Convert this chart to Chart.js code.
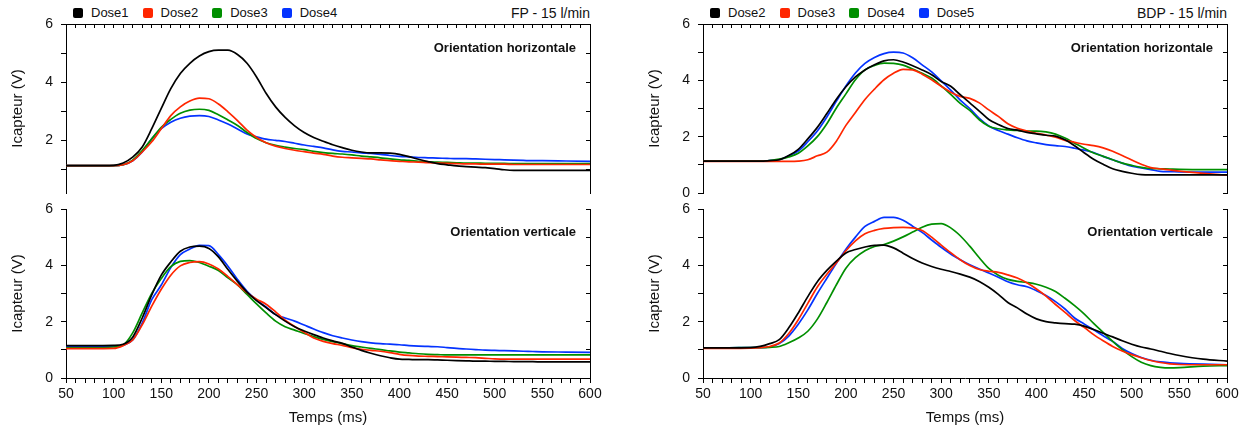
<!DOCTYPE html>
<html lang="fr">
<head>
<meta charset="utf-8">
<title>Icapteur - FP / BDP 15 l/min</title>
<script src="https://cdn.jsdelivr.net/npm/chart.js@4.4.1/dist/chart.umd.min.js"></script>
<style>
  html, body { margin: 0; padding: 0; background: #fff; }
  #page { position: relative; width: 1247px; height: 430px; overflow: hidden;
          font-family: "Liberation Sans", Arial, Helvetica, sans-serif; color: #111; }
  canvas { position: absolute; }
  .entete { position: absolute; top: 4px; width: 517px; height: 18px; line-height: 18px; font-size: 13px; }
  .legende { position: absolute; left: 0; top: 0; display: flex; white-space: nowrap; }
  .item { display: flex; align-items: center; margin-right: 14px; }
  .carre { width: 10px; height: 10px; border-radius: 2px; margin-right: 8px; }
  .titre { position: absolute; right: 0; top: 0; font-size: 14px; }
</style>
</head>
<body>
<div id="page">
  <div class="entete" style="left:73px"><div class="legende" id="legFP"></div><div class="titre">FP - 15 l/min</div></div>
  <div class="entete" style="left:710px"><div class="legende" id="legBDP"></div><div class="titre">BDP - 15 l/min</div></div>
  <canvas id="fpHoriz" width="610" height="200" style="left:0;top:0"></canvas>
  <canvas id="fpVert" width="610" height="230" style="left:0;top:200px"></canvas>
  <canvas id="bdpHoriz" width="610" height="200" style="left:637px;top:0"></canvas>
  <canvas id="bdpVert" width="610" height="230" style="left:637px;top:200px"></canvas>
</div>
<script>
// temps (ms), commun a toutes les courbes
const temps = [50, 75, 100, 110, 120, 130, 140, 150, 160, 170,
  180, 190, 200, 210, 220, 230, 240, 250, 260, 270,
  280, 290, 300, 310, 320, 330, 340, 350, 360, 370,
  380, 390, 400, 410, 420, 430, 440, 450, 460, 470,
  480, 490, 500, 510, 520, 530, 540, 550, 575, 600];

const dosesFP = ["Dose1", "Dose2", "Dose3", "Dose4"];
const dosesBDP = ["Dose2", "Dose3", "Dose4", "Dose5"];
const couleurs = ["#000000", "#ff2600", "#008f00", "#0433ff"];
const ticksY = [0, 1, 2, 3, 4, 5, 6];
const ticksX = [50, 60, 70, 80, 90, 100, 110, 120, 130, 140, 150, 160, 170, 180, 190, 200,
  210, 220, 230, 240, 250, 260, 270, 280, 290, 300, 310, 320, 330, 340, 350, 360, 370, 380,
  390, 400, 410, 420, 430, 440, 450, 460, 470, 480, 490, 500, 510, 520, 530, 540, 550, 560,
  570, 580, 590, 600];

// FP - orientation horizontale
const fpHorizDose1 = [1.13, 1.13, 1.14, 1.22, 1.42, 1.77, 2.40, 3.10, 3.78, 4.30,
  4.65, 4.90, 5.05, 5.10, 5.10, 4.95, 4.65, 4.18, 3.62, 3.15,
  2.79, 2.50, 2.27, 2.10, 1.97, 1.85, 1.75, 1.66, 1.60, 1.57,
  1.57, 1.56, 1.52, 1.44, 1.35, 1.27, 1.20, 1.16, 1.12, 1.10,
  1.08, 1.06, 1.03, 0.99, 0.97, 0.97, 0.97, 0.97, 0.97, 0.97];
const fpHorizDose2 = [1.13, 1.13, 1.13, 1.16, 1.30, 1.60, 1.95, 2.40, 2.85, 3.15,
  3.35, 3.45, 3.43, 3.25, 2.98, 2.68, 2.35, 2.10, 1.92, 1.80,
  1.72, 1.66, 1.61, 1.56, 1.52, 1.46, 1.42, 1.40, 1.38, 1.36,
  1.33, 1.30, 1.28, 1.26, 1.25, 1.23, 1.22, 1.21, 1.20, 1.19,
  1.19, 1.18, 1.18, 1.18, 1.17, 1.17, 1.17, 1.17, 1.17, 1.17];
const fpHorizDose3 = [1.13, 1.13, 1.13, 1.16, 1.32, 1.65, 2.05, 2.45, 2.72, 2.93,
  3.04, 3.07, 3.03, 2.88, 2.70, 2.51, 2.27, 2.06, 1.92, 1.83,
  1.77, 1.72, 1.68, 1.62, 1.58, 1.55, 1.53, 1.50, 1.46, 1.43,
  1.40, 1.36, 1.33, 1.31, 1.28, 1.26, 1.25, 1.24, 1.23, 1.22,
  1.22, 1.21, 1.21, 1.21, 1.20, 1.20, 1.20, 1.20, 1.20, 1.20];
const fpHorizDose4 = [1.13, 1.13, 1.13, 1.16, 1.30, 1.60, 2.05, 2.40, 2.62, 2.76,
  2.83, 2.85, 2.82, 2.70, 2.56, 2.39, 2.22, 2.12, 2.04, 2.00,
  1.96, 1.90, 1.84, 1.79, 1.74, 1.67, 1.62, 1.60, 1.57, 1.55,
  1.52, 1.48, 1.45, 1.43, 1.41, 1.40, 1.39, 1.38, 1.37, 1.37,
  1.36, 1.35, 1.34, 1.33, 1.32, 1.31, 1.30, 1.30, 1.29, 1.28];

// FP - orientation verticale
const fpVertDose1 = [1.15, 1.15, 1.16, 1.20, 1.45, 2.13, 2.95, 3.65, 4.12, 4.50,
  4.65, 4.68, 4.60, 4.30, 3.85, 3.43, 3.05, 2.75, 2.50, 2.25,
  2.02, 1.82, 1.67, 1.54, 1.42, 1.32, 1.23, 1.10, 0.98, 0.88,
  0.79, 0.72, 0.67, 0.66, 0.65, 0.65, 0.64, 0.63, 0.62, 0.61,
  0.60, 0.60, 0.59, 0.59, 0.58, 0.58, 0.58, 0.57, 0.57, 0.57];
const fpVertDose2 = [1.04, 1.04, 1.05, 1.15, 1.35, 1.89, 2.55, 3.15, 3.65, 3.98,
  4.10, 4.13, 4.05, 3.87, 3.60, 3.31, 3.03, 2.80, 2.62, 2.35,
  2.05, 1.83, 1.62, 1.42, 1.30, 1.22, 1.16, 1.08, 1.02, 0.98,
  0.95, 0.90, 0.84, 0.80, 0.78, 0.77, 0.76, 0.75, 0.74, 0.73,
  0.72, 0.70, 0.68, 0.67, 0.67, 0.67, 0.67, 0.67, 0.67, 0.67];
const fpVertDose3 = [1.07, 1.07, 1.10, 1.17, 1.60, 2.31, 3.00, 3.53, 3.95, 4.14,
  4.17, 4.10, 3.97, 3.82, 3.56, 3.31, 2.97, 2.63, 2.31, 2.02,
  1.82, 1.70, 1.58, 1.47, 1.37, 1.29, 1.22, 1.15, 1.10, 1.05,
  1.01, 0.96, 0.92, 0.89, 0.86, 0.84, 0.83, 0.82, 0.82, 0.82,
  0.82, 0.82, 0.82, 0.82, 0.82, 0.82, 0.82, 0.82, 0.82, 0.82];
const fpVertDose4 = [1.12, 1.12, 1.13, 1.17, 1.35, 1.95, 2.78, 3.30, 3.92, 4.38,
  4.58, 4.71, 4.70, 4.38, 3.97, 3.50, 3.08, 2.77, 2.52, 2.25,
  2.13, 2.02, 1.88, 1.74, 1.61, 1.50, 1.42, 1.35, 1.29, 1.25,
  1.22, 1.20, 1.18, 1.15, 1.13, 1.12, 1.11, 1.08, 1.05, 1.03,
  1.01, 0.99, 0.98, 0.97, 0.96, 0.95, 0.94, 0.93, 0.92, 0.91];

// BDP - orientation horizontale
const bdpHorizDose2 = [1.13, 1.13, 1.13, 1.13, 1.15, 1.18, 1.33, 1.55, 1.92, 2.33,
  2.82, 3.33, 3.77, 4.12, 4.37, 4.55, 4.69, 4.73, 4.65, 4.52,
  4.37, 4.20, 3.96, 3.79, 3.49, 3.20, 2.91, 2.61, 2.43, 2.29,
  2.23, 2.15, 2.10, 2.05, 2.02, 1.89, 1.68, 1.43, 1.20, 1.02,
  0.86, 0.77, 0.70, 0.65, 0.64, 0.64, 0.64, 0.64, 0.64, 0.64];
const bdpHorizDose3 = [1.12, 1.12, 1.12, 1.12, 1.12, 1.12, 1.12, 1.13, 1.18, 1.32,
  1.45, 1.84, 2.40, 2.86, 3.32, 3.69, 4.02, 4.25, 4.39, 4.37,
  4.22, 4.02, 3.79, 3.58, 3.43, 3.36, 3.20, 2.95, 2.72, 2.46,
  2.30, 2.20, 2.12, 2.06, 1.98, 1.87, 1.80, 1.73, 1.68, 1.60,
  1.48, 1.33, 1.17, 1.02, 0.90, 0.86, 0.82, 0.78, 0.70, 0.63];
const bdpHorizDose4 = [1.13, 1.13, 1.13, 1.13, 1.15, 1.20, 1.28, 1.41, 1.67, 2.00,
  2.46, 3.02, 3.52, 4.02, 4.37, 4.53, 4.61, 4.60, 4.54, 4.40,
  4.25, 4.08, 3.80, 3.50, 3.18, 2.93, 2.60, 2.37, 2.28, 2.24,
  2.22, 2.20, 2.20, 2.17, 2.09, 1.95, 1.77, 1.59, 1.42, 1.30,
  1.18, 1.06, 0.98, 0.91, 0.87, 0.86, 0.85, 0.84, 0.83, 0.83];
const bdpHorizDose5 = [1.13, 1.13, 1.13, 1.13, 1.15, 1.18, 1.32, 1.49, 1.82, 2.20,
  2.70, 3.26, 3.80, 4.26, 4.60, 4.81, 4.95, 5.00, 4.97, 4.80,
  4.55, 4.30, 3.98, 3.65, 3.30, 3.00, 2.65, 2.38, 2.22, 2.09,
  1.96, 1.85, 1.78, 1.72, 1.68, 1.65, 1.59, 1.52, 1.44, 1.30,
  1.18, 1.06, 0.95, 0.89, 0.83, 0.77, 0.76, 0.75, 0.74, 0.74];

// BDP - orientation verticale
const bdpVertDose2 = [1.07, 1.07, 1.08, 1.12, 1.22, 1.36, 1.78, 2.31, 2.89, 3.42,
  3.82, 4.15, 4.44, 4.56, 4.65, 4.71, 4.72, 4.62, 4.43, 4.24,
  4.08, 3.96, 3.86, 3.78, 3.69, 3.58, 3.43, 3.22, 2.97, 2.68,
  2.49, 2.27, 2.10, 2.00, 1.96, 1.93, 1.91, 1.84, 1.72, 1.59,
  1.46, 1.32, 1.20, 1.10, 1.03, 0.95, 0.87, 0.80, 0.67, 0.60];
const bdpVertDose3 = [1.05, 1.05, 1.06, 1.08, 1.12, 1.24, 1.58, 2.07, 2.65, 3.23,
  3.68, 4.09, 4.52, 4.87, 5.12, 5.24, 5.31, 5.34, 5.35, 5.33,
  5.24, 5.00, 4.72, 4.45, 4.20, 3.99, 3.85, 3.79, 3.75, 3.66,
  3.55, 3.38, 3.16, 2.91, 2.61, 2.33, 2.04, 1.80, 1.54, 1.32,
  1.12, 0.96, 0.83, 0.72, 0.62, 0.55, 0.50, 0.48, 0.47, 0.47];
const bdpVertDose4 = [1.07, 1.07, 1.08, 1.08, 1.09, 1.12, 1.25, 1.42, 1.66, 2.09,
  2.68, 3.31, 3.90, 4.27, 4.52, 4.67, 4.74, 4.86, 5.01, 5.18,
  5.35, 5.46, 5.48, 5.33, 5.05, 4.68, 4.27, 3.89, 3.65, 3.50,
  3.43, 3.39, 3.33, 3.22, 3.07, 2.83, 2.57, 2.28, 1.94, 1.62,
  1.30, 1.01, 0.76, 0.56, 0.44, 0.38, 0.36, 0.37, 0.42, 0.44];
const bdpVertDose5 = [1.07, 1.07, 1.08, 1.08, 1.10, 1.22, 1.49, 1.91, 2.42, 3.00,
  3.54, 4.07, 4.57, 5.00, 5.38, 5.56, 5.70, 5.70, 5.60, 5.39,
  5.17, 4.90, 4.64, 4.40, 4.20, 4.02, 3.87, 3.73, 3.58, 3.42,
  3.31, 3.24, 3.10, 2.93, 2.71, 2.45, 2.13, 1.92, 1.71, 1.50,
  1.30, 1.05, 0.87, 0.73, 0.63, 0.57, 0.54, 0.52, 0.49, 0.47];

const police = '"Liberation Sans", Arial, Helvetica, sans-serif';

// texte du panneau, en haut a droite de la zone de trace
const etiquette = {
  id: "etiquette",
  afterDraw(chart, args, o) {
    const ctx = chart.ctx, a = chart.chartArea;
    ctx.save();
    ctx.fillStyle = "#111";
    ctx.font = "bold 13px " + police;
    ctx.textAlign = "right";
    ctx.textBaseline = "middle";
    ctx.fillText(o.texte, a.right - 14, a.top + o.dy);
    ctx.restore();
  }
};

function faireLegende(id, doses) {
  const div = document.getElementById(id);
  doses.forEach((nom, i) => {
    const item = document.createElement("div");
    item.className = "item";
    item.innerHTML = '<span class="carre" style="background:' + couleurs[i] + '"></span>' + nom;
    div.appendChild(item);
  });
}

const grille = len => ({ display: true, drawOnChartArea: false, drawTicks: true, tickLength: len,
                         color: "#000", lineWidth: 1 });

function faireGraphique(id, doses, series, haut, ymin, texte) {
  const datasets = doses.map((nom, i) => ({
    label: nom,
    xAxisID: "x",
    yAxisID: "y",
    data: temps.map((t, k) => ({ x: t, y: series[i][k] })),
    borderColor: couleurs[i],
    backgroundColor: couleurs[i],
    borderWidth: 1.7,
    pointRadius: 0,
    cubicInterpolationMode: "monotone",
    fill: false
  }));
  const ticksYpanneau = s => { s.ticks = ticksY.filter(v => v >= s.min).map(v => ({ value: v })); };
  const ticksXpanneau = s => { s.ticks = ticksX.map(v => ({ value: v })); };
  const scales = {
    x: {
      type: "linear", min: 50, max: 600, display: !haut,
      grid: grille(5),
      border: { display: true, color: "#000", width: 1 },
      afterBuildTicks: ticksXpanneau,
      ticks: { padding: 3, color: "#111", maxRotation: 0, autoSkip: false,
               callback: v => (v % 50 === 0 ? v : ""),
               font: { family: police, size: 14 } },
      title: { display: true, text: "Temps (ms)", color: "#111",
               font: { family: police, size: 15 }, padding: { top: 0, bottom: 3 } },
      afterFit: s => { if (!haut) s.height = 52; }
    },
    y: {
      min: ymin, max: 6,
      grid: grille(5),
      border: { display: true, color: "#000", width: 1 },
      afterBuildTicks: ticksYpanneau,
      ticks: { padding: 8, color: "#111", autoSkip: false,
               callback: v => (v % 2 === 0 ? v : ""),
               font: { family: police, size: 14 } },
      title: { display: true, text: "Icapteur (V)", color: "#111",
               font: { family: police, size: 15 }, padding: { top: 9, bottom: 0 } },
      afterFit: s => { s.width = 66; s.paddingTop = 0; s.paddingBottom = 0; }
    },
    y2: {
      axis: "y", position: "right", min: ymin, max: 6,
      grid: grille(-4),
      border: { display: true, color: "#000", width: 1 },
      afterBuildTicks: ticksYpanneau,
      ticks: { display: false },
      afterFit: s => { s.width = 0; s.paddingTop = 0; s.paddingBottom = 0; }
    }
  };
  if (haut) {
    scales.x2 = {
      axis: "x", type: "linear", position: "top", min: 50, max: 600,
      grid: grille(-4),
      border: { display: true, color: "#000", width: 1 },
      afterBuildTicks: ticksXpanneau,
      ticks: { display: false },
      afterFit: s => { s.height = 0; s.paddingLeft = 0; s.paddingRight = 0; }
    };
  }
  return new Chart(document.getElementById(id), {
    type: "line",
    data: { datasets: datasets },
    plugins: [etiquette],
    options: {
      responsive: false,
      animation: false,
      devicePixelRatio: 1,
      layout: { padding: { top: haut ? 24 : 9, right: 20, bottom: haut ? 7 : 0, left: 0 } },
      plugins: {
        legend: { display: false },
        tooltip: { enabled: false },
        etiquette: { texte: texte, dy: haut ? 24 : 23 }
      },
      scales: scales
    }
  });
}

faireLegende("legFP", dosesFP);
faireLegende("legBDP", dosesBDP);

faireGraphique("fpHoriz", dosesFP, [fpHorizDose1, fpHorizDose2, fpHorizDose3, fpHorizDose4], true, 0.19, "Orientation horizontale");
faireGraphique("fpVert", dosesFP, [fpVertDose1, fpVertDose2, fpVertDose3, fpVertDose4], false, 0, "Orientation verticale");
faireGraphique("bdpHoriz", dosesBDP, [bdpHorizDose2, bdpHorizDose3, bdpHorizDose4, bdpHorizDose5], true, 0, "Orientation horizontale");
faireGraphique("bdpVert", dosesBDP, [bdpVertDose2, bdpVertDose3, bdpVertDose4, bdpVertDose5], false, 0, "Orientation verticale");
</script>
</body>
</html>
